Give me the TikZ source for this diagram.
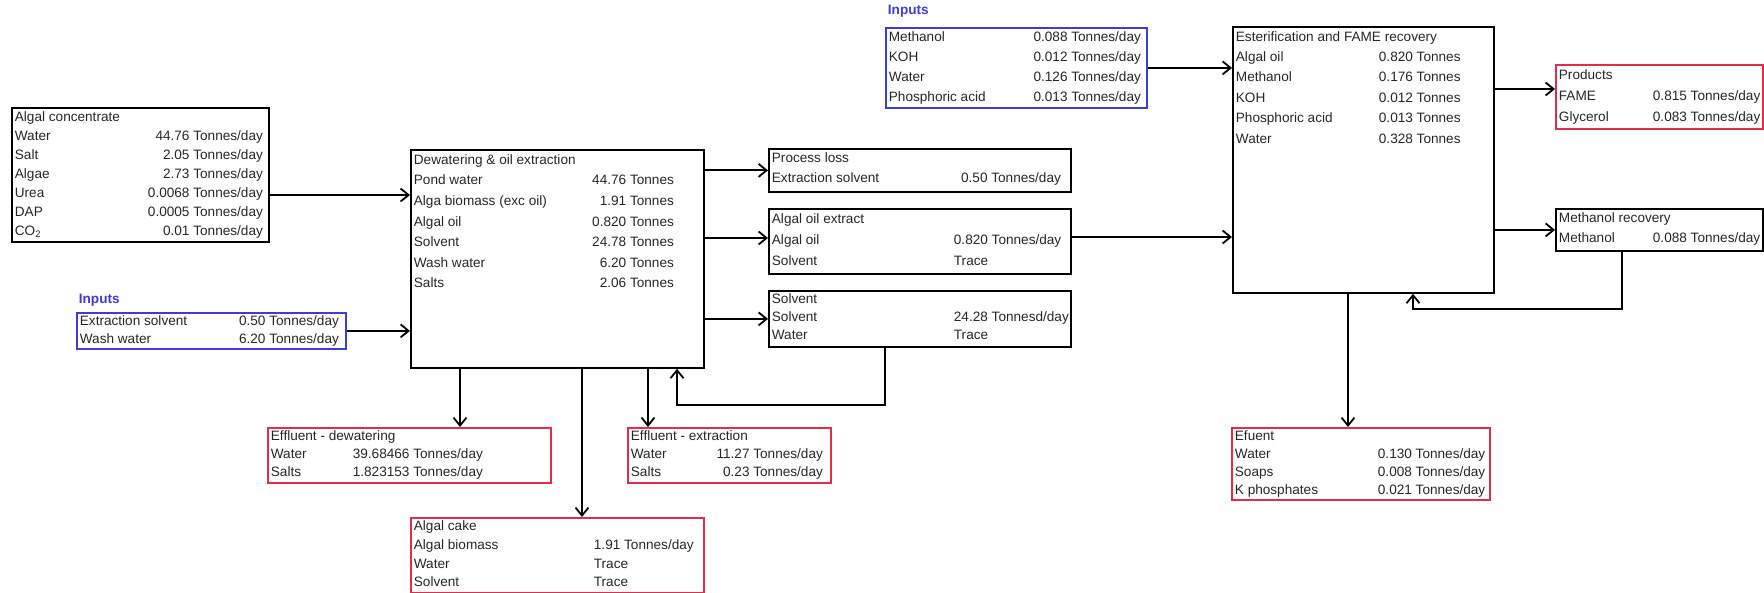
\documentclass[tikz,border=0pt]{standalone}
\usepackage{fontspec}
\setmainfont{Liberation Sans}
\usetikzlibrary{arrows.meta}
\definecolor{inblue}{RGB}{60,60,215}
\definecolor{outred}{RGB}{225,45,75}

\begin{document}
\begin{tikzpicture}[x=0.5pt, y=-0.5pt, line width=0.9pt,
  unit/.style={draw, anchor=north west, inner xsep=1.5pt, inner ysep=0pt,
    text=black!85, font=\fontsize{6.8}{10}\selectfont},
  inbox/.style={unit, draw=inblue},
  outbox/.style={unit, draw=outred},
  inlabel/.style={anchor=west, inner sep=0pt, text=inblue,
    font=\fontsize{6.8}{8}\selectfont\bfseries},
  flow/.style={-{Straight Barb[length=4pt,width=6.5pt]}}]
  \useasboundingbox (0,0) rectangle (1764,593);

  % feed streams
  \node[unit, font=\fontsize{6.8}{9.5}\selectfont] (conc) at (11,107) {\parbox[t][67pt][t]{125.5pt}{%
    \begin{tabular*}{124pt}{@{}l@{\extracolsep{\fill}}r@{}}
      \multicolumn{2}{@{}l@{}}{Algal concentrate}\\
      Water & 44.76 Tonnes/day\\
      Salt & 2.05 Tonnes/day\\
      Algae & 2.73 Tonnes/day\\
      Urea & 0.0068 Tonnes/day\\
      DAP & 0.0005 Tonnes/day\\
      CO\textsubscript{2} & 0.01 Tonnes/day
    \end{tabular*}}};
  \node[inlabel] (inL-lab) at (78,300) {Inputs};
  \node[inbox, font=\fontsize{6.8}{9}\selectfont] (inL) at (76,312) {\parbox[t][18pt][t]{131.5pt}{%
    \begin{tabular*}{129.5pt}{@{}l@{\extracolsep{\fill}}r@{}}
      Extraction solvent & 0.50 Tonnes/day\\
      Wash water & 6.20 Tonnes/day
    \end{tabular*}}};

  % dewatering and extraction
  \node[unit, font=\fontsize{6.8}{10.3}\selectfont] (dew) at (410,149) {\parbox[t][109pt][t]{143.5pt}{%
    \begin{tabular*}{130pt}{@{}l@{\extracolsep{\fill}}r@{}}
      \multicolumn{2}{@{}l@{}}{Dewatering \& oil extraction}\\
      Pond water & 44.76 Tonnes\\
      Alga biomass (exc oil) & 1.91 Tonnes\\
      Algal oil & 0.820 Tonnes\\
      Solvent & 24.78 Tonnes\\
      Wash water & 6.20 Tonnes\\
      Salts & 2.06 Tonnes
    \end{tabular*}}};
  \node[unit] (pl) at (768,148) {\parbox[t][21.5pt][t]{148pt}{%
    \begin{tabular*}{144.5pt}{@{}l@{\extracolsep{\fill}}r@{}}
      \multicolumn{2}{@{}l@{}}{Process loss}\\
      Extraction solvent & 0.50 Tonnes/day
    \end{tabular*}}};
  \node[unit, font=\fontsize{6.8}{10.5}\selectfont] (aoe) at (768,208) {\parbox[t][32.5pt][t]{148pt}{%
    \begin{tabular}{@{}p{91pt}@{}l@{}}
      \multicolumn{2}{@{}l@{}}{Algal oil extract}\\
      Algal oil & 0.820 Tonnes/day\\
      Solvent & Trace
    \end{tabular}}};
  \node[unit, font=\fontsize{6.8}{9}\selectfont] (solv) at (768,290) {\parbox[t][28pt][t]{148pt}{%
    \begin{tabular}{@{}p{91pt}@{}l@{}}
      \multicolumn{2}{@{}l@{}}{Solvent}\\
      Solvent & 24.28 Tonnesd/day\\
      Water & Trace
    \end{tabular}}};
  \node[outbox, font=\fontsize{6.8}{9}\selectfont] (effd) at (267,427) {\parbox[t][27.5pt][t]{138.5pt}{%
    \begin{tabular*}{106pt}{@{}l@{\extracolsep{\fill}}r@{}}
      \multicolumn{2}{@{}l@{}}{Effluent - dewatering}\\
      Water & 39.68466 Tonnes/day\\
      Salts & 1.823153 Tonnes/day
    \end{tabular*}}};
  \node[outbox, font=\fontsize{6.8}{9}\selectfont] (effe) at (627,427) {\parbox[t][27.5pt][t]{98.5pt}{%
    \begin{tabular*}{96pt}{@{}l@{\extracolsep{\fill}}r@{}}
      \multicolumn{2}{@{}l@{}}{Effluent - extraction}\\
      Water & 11.27 Tonnes/day\\
      Salts & 0.23 Tonnes/day
    \end{tabular*}}};
  \node[outbox, font=\fontsize{6.8}{9.3}\selectfont] (cake) at (410,517) {\parbox[t][37.5pt][t]{143.5pt}{%
    \begin{tabular}{@{}p{90pt}@{}l@{}}
      \multicolumn{2}{@{}l@{}}{Algal cake}\\
      Algal biomass & 1.91 Tonnes/day\\
      Water & Trace\\
      Solvent & Trace
    \end{tabular}}};

  % transesterification
  \node[inlabel] (inT-lab) at (887,11) {Inputs};
  \node[inbox] (inT) at (885,27) {\parbox[t][40pt][t]{127.5pt}{%
    \begin{tabular*}{126pt}{@{}l@{\extracolsep{\fill}}r@{}}
      Methanol & 0.088 Tonnes/day\\
      KOH & 0.012 Tonnes/day\\
      Water & 0.126 Tonnes/day\\
      Phosphoric acid & 0.013 Tonnes/day
    \end{tabular*}}};
  \node[unit, font=\fontsize{6.8}{10.2}\selectfont] (est) at (1232,26) {\parbox[t][133pt][t]{127.5pt}{%
    \begin{tabular}{@{}p{71.5pt}@{}l@{}}
      \multicolumn{2}{@{}l@{}}{Esterification and FAME recovery}\\
      Algal oil & 0.820 Tonnes\\
      Methanol & 0.176 Tonnes\\
      KOH & 0.012 Tonnes\\
      Phosphoric acid & 0.013 Tonnes\\
      Water & 0.328 Tonnes
    \end{tabular}}};
  \node[outbox, font=\fontsize{6.8}{10.5}\selectfont] (prod) at (1555,64) {\parbox[t][32pt][t]{100.5pt}{%
    \begin{tabular}{@{}p{47pt}@{}l@{}}
      \multicolumn{2}{@{}l@{}}{Products}\\
      FAME & 0.815 Tonnes/day\\
      Glycerol & 0.083 Tonnes/day
    \end{tabular}}};
  \node[unit] (mrec) at (1555,208) {\parbox[t][21pt][t]{100.5pt}{%
    \begin{tabular}{@{}p{47pt}@{}l@{}}
      \multicolumn{2}{@{}l@{}}{Methanol recovery}\\
      Methanol & 0.088 Tonnes/day
    \end{tabular}}};
  \node[outbox, font=\fontsize{6.8}{9}\selectfont] (eff) at (1231,427) {\parbox[t][36pt][t]{126pt}{%
    \begin{tabular}{@{}p{71.5pt}@{}l@{}}
      \multicolumn{2}{@{}l@{}}{Efuent}\\
      Water & 0.130 Tonnes/day\\
      Soaps & 0.008 Tonnes/day\\
      K phosphates & 0.021 Tonnes/day
    \end{tabular}}};

  % streams
  \draw[flow] (conc.east |- 0,195) -- (dew.west |- 0,195);
  \draw[flow] (inL.east) -- (inL.east -| dew.west);
  \draw[flow] (dew.east |- pl.west) -- (pl.west);
  \draw[flow] (dew.east |- 0,238) -- (aoe.west |- 0,238);
  \draw[flow] (dew.east |- solv.west) -- (solv.west);
  \draw[flow] (dew.south -| 460,0) -- (effd.north -| 460,0);
  \draw[flow] (dew.south -| 582,0) -- (cake.north -| 582,0);
  \draw[flow] (dew.south -| 648,0) -- (effe.north -| 648,0);
  \draw[flow] (solv.south -| 885,0) |- (677,405) -- (dew.south -| 677,0);
  \draw[flow] (aoe.east |- 0,237) -- (est.west |- 0,237);
  \draw[flow] (inT.east) -- (inT.east -| est.west);
  \draw[flow] (est.east |- 0,89) -- (prod.west |- 0,89);
  \draw[flow] (est.east |- mrec.west) -- (mrec.west);
  \draw[flow] (mrec.south -| 1622,0) |- (1413,309) -- (est.south -| 1413,0);
  \draw[flow] (est.south -| 1348,0) -- (eff.north -| 1348,0);
\end{tikzpicture}
\end{document}
